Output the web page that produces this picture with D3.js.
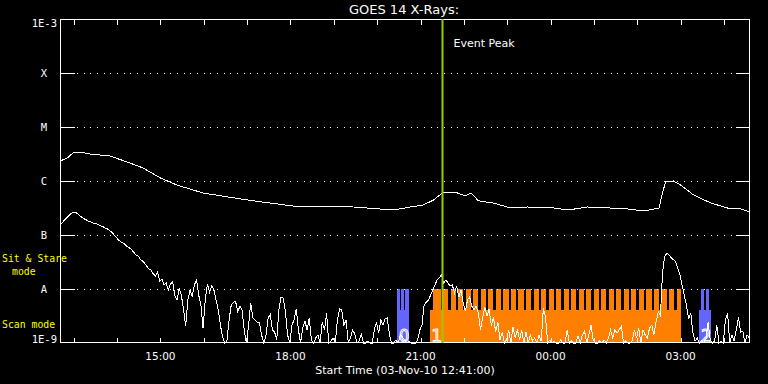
<!DOCTYPE html>
<html lang="en">
<head>
<meta charset="UTF-8">
<title>GOES 14 X-Rays</title>
<script src="https://d3js.org/d3.v7.min.js"></script>
<style>
    body { margin: 0; background: #000; }
    svg { display: block; background: #000; }
    text { fill: #fff; font-family: "DejaVu Sans", sans-serif; }
    .mono { font-family: "DejaVu Sans Mono", monospace; }
    .note { fill: #ffff00; }
    .frame line, .frame rect { shape-rendering: crispEdges; }
</style>
</head>
<body>
<div id="chart"></div>
<script>
// ---- data -----------------------------------------------------------
const startTime = "12:41";
const endTime = "04:36";
const peakTime = "21:29:40";

// y axis: decade labels
const levelFlux = [1e-3, 1e-4, 1e-5, 1e-6, 1e-7, 1e-8, 1e-9];
const levelLabels = ["1E-3", "X", "M", "C", "B", "A", "1E-9"];

// x axis labels (every 3 hours)
const hourTicks = ["13:00", "14:00", "15:00", "16:00", "17:00", "18:00", "19:00", "20:00",
    "21:00", "22:00", "23:00", "00:00", "01:00", "02:00", "03:00", "04:00"];
const labelTicks = ["15:00", "18:00", "21:00", "00:00", "03:00"];

// 1-8 A channel (W/m^2)
const longTimes = ["12:41", "12:51", "12:59", "13:09", "13:23", "13:50", "14:14", "14:36", "15:00", "15:23",
    "15:59", "16:32", "17:08", "17:42", "18:14", "18:51", "19:27", "20:04", "20:22", "20:46",
    "21:04", "21:18", "21:30", "21:51", "22:02", "22:10", "22:20", "22:41", "23:05", "23:28",
    "23:50", "23:56", "00:24", "00:51", "01:23", "01:47", "02:09", "02:30", "02:35", "02:39",
    "02:50", "03:00", "03:18", "03:42", "04:05", "04:23", "04:36"];
const longFlux = [2.34e-6, 2.67e-6, 3.30e-6, 3.44e-6, 3.16e-6, 2.90e-6, 2.25e-6, 1.74e-6, 1.14e-6, 8.4e-7,
    6.0e-7, 5.1e-7, 4.3e-7, 3.75e-7, 3.3e-7, 3.44e-7, 3.3e-7, 3.03e-7, 2.9e-7, 3.3e-7,
    3.6e-7, 4.45e-7, 6.0e-7, 6.0e-7, 5.3e-7, 6.0e-7, 4.3e-7, 3.9e-7, 3.16e-7, 3.3e-7,
    3.16e-7, 3.3e-7, 2.9e-7, 3.3e-7, 3.16e-7, 3.03e-7, 2.78e-7, 3.16e-7, 6.0e-7, 9.6e-7,
    1.0e-6, 8.4e-7, 5.5e-7, 3.9e-7, 3.16e-7, 3.03e-7, 2.67e-7];

// 0.5-4 A channel, 3 minute cadence from startTime, in units of 1e-9 W/m^2
const shortStepMin = 3;
const shortFlux = [
    153, 167, 190, 205, 225, 248, 262, 265, 250, 230,
    215, 200, 192, 180, 175, 169, 163, 160, 153, 147,
    141, 134, 129, 119, 112, 100, 90, 81, 75, 72,
    67, 61, 58, 54, 48, 43, 41, 36, 33, 30,
    26.5, 23.5, 22.5, 19, 17.4, 20.6, 14, 15.3, 11.9, 12.9,
    9.6, 12.4, 13.5, 7.4, 6.25, 10.4, 7.7, 4.1, 2.06, 6.25,
    9.6, 7.4, 11.9, 14.7, 7.7, 5.05, 1.9, 6.25, 12.4, 8.8,
    11.5, 9.6, 6.25, 4.1, 2.15, 1.29, 0.8, 1.09, 2.67, 5.05,
    5.7, 5.9, 3.8, 4.8, 4.1, 1.74, 0.8, 2.15, 5.5, 2.9,
    2.67, 2.45, 2.35, 1.41, 0.8, 1.35, 2.9, 3.4, 1.74, 1.6,
    1.14, 4.1, 7.1, 6.8, 3.8, 1.41, 0.8, 2.15, 2.67, 4.25,
    1.74, 0.8, 1.9, 2.55, 1.74, 2.9, 1.14, 0.8, 1.24, 1.41,
    0.8, 2.45, 1.74, 3.6, 0.8, 1.09, 1.24, 0.8, 2.67, 4.25,
    4.1, 2.15, 2.67, 0.8, 1.24, 1.74, 1.47, 0.8, 1.09, 1.47,
    0.8, 0.8, 1.09, 0.8, 0.8, 1.74, 2.45, 1.53, 2.67, 2.15,
    2.78, 2.9, 1.41, 0.8, 0.8, 1.14, 0.8, 1.41, 1.29, 1.14,
    0.8, 1.09, 0.8, 0.8, 0.8, 1.14, 1.74, 2.15, 5.05, 5.7,
    6.25, 7.7, 9.6, 11.9, 14.7, 16, 18.2, 12.9, 14.7, 12.9,
    11.4, 11.9, 8.4, 11.4, 7.1, 9.6, 5.5, 3.9, 6.25, 7.1,
    4.8, 4.1, 4.8, 3.6, 1.74, 3.0, 4.6, 3.2, 4.25, 2.06,
    3.0, 1.6, 2.45, 1.14, 1.6, 0.8, 1.14, 1.74, 0.8, 2.0,
    1.24, 1.8, 1.14, 1.74, 0.8, 1.6, 0.8, 1.41, 1.09, 1.24,
    0.8, 1.41, 1.09, 4.4, 3.0, 0.8, 1.14, 0.8, 1.09, 0.8,
    0.8, 1.14, 0.8, 0.8, 1.74, 0.8, 1.09, 0.8, 0.8, 1.35,
    0.8, 1.41, 1.67, 0.8, 1.41, 2.15, 1.14, 0.8, 0.8, 1.09,
    0.8, 1.14, 0.8, 1.24, 1.74, 1.24, 1.74, 1.53, 1.74, 2.06,
    0.8, 1.09, 0.8, 0.8, 1.09, 1.74, 1.24, 1.9, 0.8, 1.74,
    1.41, 1.24, 1.9, 2.15, 1.41, 2.45, 3.75, 3.2, 20.7, 40.7,
    46, 42.5, 37.6, 35, 32.4, 24.5, 18.2, 11.9, 7.7, 5.05,
    2.78, 3.6, 1.53, 1.09, 1.24, 0.8, 1.09, 0.8, 1.14, 2.45,
    1.14, 0.8, 1.09, 2.15, 0.8, 1.09, 0.8, 2.67, 3.6, 0.8,
    1.41, 1.09, 1.74, 3.0, 1.6, 1.67, 0.8, 1.41, 1.24, 1.09
];

// observing blocks: scan mode (lower band)
const scanIds = ["0", "1", "2"];
const scanStart = ["20:28", "21:13", "03:26"];
const scanEnd = ["20:44", "03:00:30", "03:42"];
const scanKind = ["short", "long", "short"];

// sit & stare pointings (upper band)
const stareStart = ["20:28", "20:33", "20:39",
    "21:17:30", "21:31:22", "21:41:47", "21:52:12", "22:02:37", "22:13:02", "22:23:27", "22:33:52",
    "22:44:17", "22:54:42", "23:05:07", "23:15:32", "23:25:57", "23:36:22", "23:46:47", "23:57:12",
    "00:07:37", "00:18:02", "00:28:27", "00:38:52", "00:49:17", "00:59:42", "01:10:07", "01:20:32",
    "01:30:57", "01:41:22", "01:51:47", "02:02:12", "02:12:37", "02:23:02", "02:33:27", "02:43:52",
    "02:54:17",
    "03:28", "03:35"];
const stareEnd = ["20:31", "20:37", "20:44",
    "21:28:02", "21:38:27", "21:48:52", "21:59:17", "22:09:42", "22:20:07", "22:30:32", "22:40:57",
    "22:51:22", "23:01:47", "23:12:12", "23:22:37", "23:33:02", "23:43:27", "23:53:52", "00:04:17",
    "00:14:42", "00:25:07", "00:35:32", "00:45:57", "00:56:22", "01:06:47", "01:17:12", "01:27:37",
    "01:38:02", "01:48:27", "01:58:52", "02:09:17", "02:19:42", "02:30:07", "02:40:32", "02:50:57",
    "03:00:30",
    "03:32:30", "03:39:30"];

// ---- helpers --------------------------------------------------------
// clock string -> Date, times before noon belong to the next day
function toDate(s) {
    const p = s.split(":").map(Number);
    const day = p[0] < 12 ? 4 : 3;
    return new Date(2010, 10, day, p[0], p[1], p[2] || 0);
}

const kindColor = { short: "#6464ff", long: "#ff8000" };

const W = 768, H = 384;
const plot = { left: 60, right: 750, top: 19, bottom: 343 };

const svg = d3.select("#chart").append("svg")
    .attr("width", W)
    .attr("height", H);

const x = d3.scaleTime()
    .domain([toDate(startTime), toDate(endTime)])
    .range([plot.left, plot.right]);

const y = d3.scaleLog()
    .domain([1e-9, 1e-3])
    .range([plot.bottom, plot.top])
    .clamp(true);

// ---- observing blocks ----------------------------------------------
const bandTop = y(1e-8);
const bandMid = 310;

const scans = scanIds.map((id, i) => ({
    id: id, start: toDate(scanStart[i]), end: toDate(scanEnd[i]), kind: scanKind[i]
}));

function kindAt(t) {
    const s = scans.find(d => t >= d.start && t <= d.end);
    return s ? s.kind : "long";
}

svg.append("g").selectAll("rect")
    .data(scans)
    .join("rect")
    .attr("x", d => x(d.start))
    .attr("y", bandMid)
    .attr("width", d => x(d.end) - x(d.start))
    .attr("height", plot.bottom - bandMid)
    .attr("fill", d => kindColor[d.kind])
    .attr("shape-rendering", "crispEdges");

const stares = stareStart.map((s, i) => ({ start: toDate(s), end: toDate(stareEnd[i]) }));
svg.append("g").selectAll("rect")
    .data(stares)
    .join("rect")
    .attr("x", d => x(d.start))
    .attr("y", bandTop)
    .attr("width", d => x(d.end) - x(d.start))
    .attr("height", bandMid - bandTop + 1)
    .attr("fill", d => kindColor[kindAt(d.start)])
    .attr("shape-rendering", "crispEdges");

// scan numbers
svg.append("g").selectAll("text")
    .data(scans)
    .join("text")
    .attr("x", d => x(d.start) + 1.5)
    .attr("y", plot.bottom - 1)
    .attr("font-size", 18)
    .style("fill", "none")
    .style("stroke", "#fff")
    .style("stroke-width", 1)
    .style("font-stretch", "condensed")
    .text(d => d.id);

// ---- frame, grid, ticks ---------------------------------------------
const frame = svg.append("g").attr("class", "frame");

frame.append("rect")
    .attr("x", plot.left + 0.5)
    .attr("y", plot.top + 0.5)
    .attr("width", plot.right - plot.left - 1)
    .attr("height", plot.bottom - plot.top - 1)
    .attr("fill", "none")
    .attr("stroke", "#fff");

const inner = levelFlux.slice(1, -1);
frame.selectAll("line.grid")
    .data(inner)
    .join("line")
    .attr("class", "grid")
    .attr("x1", plot.left + 17)
    .attr("x2", plot.right - 14)
    .attr("y1", d => Math.round(y(d)) + 0.5)
    .attr("y2", d => Math.round(y(d)) + 0.5)
    .attr("stroke", "#fff")
    .attr("stroke-dasharray", "1,5.67");

frame.selectAll("line.ltick")
    .data(inner)
    .join("line")
    .attr("class", "ltick")
    .attr("x1", plot.left)
    .attr("x2", plot.left + 15)
    .attr("y1", d => Math.round(y(d)) + 0.5)
    .attr("y2", d => Math.round(y(d)) + 0.5)
    .attr("stroke", "#fff");

frame.selectAll("line.rtick")
    .data(inner)
    .join("line")
    .attr("class", "rtick")
    .attr("x1", plot.right - 14)
    .attr("x2", plot.right)
    .attr("y1", d => Math.round(y(d)) + 0.5)
    .attr("y2", d => Math.round(y(d)) + 0.5)
    .attr("stroke", "#fff");

const hours = hourTicks.map(toDate);
frame.selectAll("line.ttick")
    .data(hours)
    .join("line")
    .attr("class", "ttick")
    .attr("x1", d => Math.round(x(d)) + 0.5)
    .attr("x2", d => Math.round(x(d)) + 0.5)
    .attr("y1", plot.top)
    .attr("y2", plot.top + 6)
    .attr("stroke", "#fff");

frame.selectAll("line.btick")
    .data(hours)
    .join("line")
    .attr("class", "btick")
    .attr("x1", d => Math.round(x(d)) + 0.5)
    .attr("x2", d => Math.round(x(d)) + 0.5)
    .attr("y1", plot.bottom - 5)
    .attr("y2", plot.bottom)
    .attr("stroke", "#fff");

// y labels
svg.append("g").selectAll("text")
    .data(levelFlux)
    .join("text")
    .attr("class", "mono")
    .attr("font-size", 10.5)
    .attr("text-anchor", (d, i) => (i === 0 || i === levelFlux.length - 1) ? "end" : "middle")
    .attr("x", (d, i) => (i === 0 || i === levelFlux.length - 1) ? 57 : 44)
    .attr("y", (d, i) => i === 0 ? y(d) + 8 : (i === levelFlux.length - 1 ? y(d) : y(d) + 4))
    .text((d, i) => levelLabels[i]);

// x labels
svg.append("g").selectAll("text")
    .data(labelTicks)
    .join("text")
    .attr("font-size", 10.5)
    .attr("text-anchor", "middle")
    .attr("x", d => x(toDate(d)))
    .attr("y", 360)
    .text(d => d);

svg.append("text")
    .attr("x", 405)
    .attr("y", 374)
    .attr("font-size", 11)
    .attr("text-anchor", "middle")
    .text("Start Time (03-Nov-10 12:41:00)");

svg.append("text")
    .attr("x", 404)
    .attr("y", 14)
    .attr("font-size", 13)
    .attr("text-anchor", "middle")
    .text("GOES 14 X-Rays:");

// mode labels
svg.append("text").attr("class", "mono note").attr("font-size", 9.8)
    .attr("x", 2).attr("y", 262).text("Sit & Stare");
svg.append("text").attr("class", "mono note").attr("font-size", 9.8)
    .attr("x", 12).attr("y", 275).text("mode");
svg.append("text").attr("class", "mono note").attr("font-size", 9.8)
    .attr("x", 2).attr("y", 328).text("Scan mode");

// ---- light curves ---------------------------------------------------
const longData = longTimes.map((t, i) => ({ t: toDate(t), v: longFlux[i] }));
const t0 = toDate(startTime);
const shortData = shortFlux.map((v, i) => ({
    t: new Date(t0.getTime() + i * shortStepMin * 60000), v: v * 1e-9
}));

const line = d3.line()
    .x(d => x(d.t))
    .y(d => y(d.v));

const curves = svg.append("g")
    .attr("fill", "none")
    .attr("stroke", "#fff")
    .attr("stroke-width", 1)
    .attr("shape-rendering", "crispEdges");

curves.append("path").attr("d", line(longData));
curves.append("path").attr("d", line(shortData.filter(d => d.t <= x.domain()[1])));

// ---- event peak -----------------------------------------------------
const px = Math.round(x(toDate(peakTime))) + 0.5;
svg.append("line")
    .attr("x1", px).attr("x2", px)
    .attr("y1", plot.top).attr("y2", plot.bottom)
    .attr("stroke", "#99cc00")
    .attr("stroke-width", 2);

svg.append("text")
    .attr("x", px + 11)
    .attr("y", 47)
    .attr("font-size", 11)
    .text("Event Peak");
</script>
</body>
</html>
